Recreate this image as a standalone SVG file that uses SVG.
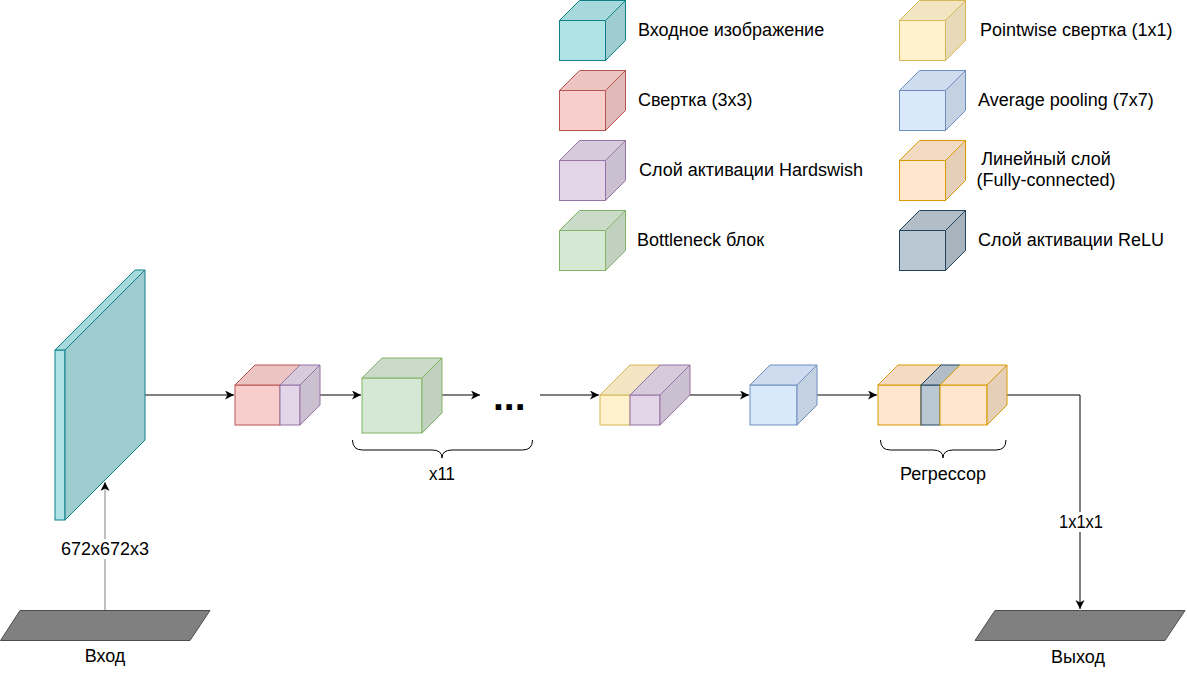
<svg xmlns="http://www.w3.org/2000/svg" width="1187" height="676" viewBox="0 0 1187 676">
<defs>
<marker id="arr" markerUnits="userSpaceOnUse" markerWidth="12" markerHeight="12" refX="9" refY="4.5" orient="auto">
<path d="M0,0 L9,4.5 L0,9 L2.5,4.5 Z" fill="#000"/>
</marker>
<style>
text{font-family:"Liberation Sans",Arial,sans-serif;font-size:18px;fill:#000}
.cyan *{fill:#b0e3e6;stroke:#0e8088}
.cyan .t{fill:#a7d8db}.cyan .s{fill:#9ecccf}
.red *{fill:#f8cecc;stroke:#b85450}
.red .t{fill:#ecc4c2}.red .s{fill:#dfbab8}
.pur *{fill:#e1d5e7;stroke:#9673a6}
.pur .t{fill:#d6cadb}.pur .s{fill:#cbc0d0}
.grn *{fill:#d5e8d4;stroke:#82b366}
.grn .t{fill:#cadcc9}.grn .s{fill:#c0d1bf}
.yel *{fill:#fff2cc;stroke:#d6b656}
.yel .t{fill:#f2e6c2}.yel .s{fill:#e6dab8}
.blu *{fill:#dae8fc;stroke:#6c8ebf}
.blu .t{fill:#cfdcef}.blu .s{fill:#c4d1e3}
.org *{fill:#ffe6cc;stroke:#d79b00}
.org .t{fill:#f2dbc2}.org .s{fill:#e6cfb8}
.drk *{fill:#bac8d3;stroke:#23445d}
.drk .t{fill:#b1bec8}.drk .s{fill:#a7b4be}
.edge{fill:none;stroke:#000;stroke-width:1}
.brace{fill:none;stroke:#000;stroke-width:1}
.para{fill:#808080;stroke:#4d4d4d;stroke-width:1}
</style>
</defs>

<!-- Legend -->
<g id="legend-input" class="cyan">
<rect x="559.5" y="20.5" width="46" height="40"/>
<path class="t" d="M559.5,20.5 L579.5,0.5 L625.5,0.5 L605.5,20.5 Z"/>
<path class="s" d="M605.5,20.5 L625.5,0.5 L625.5,40.5 L605.5,60.5 Z"/>
</g>
<text x="638" y="36">Входное изображение</text>
<g id="legend-conv" class="red">
<rect x="559.5" y="90.5" width="46" height="40"/>
<path class="t" d="M559.5,90.5 L579.5,70.5 L625.5,70.5 L605.5,90.5 Z"/>
<path class="s" d="M605.5,90.5 L625.5,70.5 L625.5,110.5 L605.5,130.5 Z"/>
</g>
<text x="638" y="106">Свертка (3x3)</text>
<g id="legend-hswish" class="pur">
<rect x="559.5" y="160.5" width="46" height="40"/>
<path class="t" d="M559.5,160.5 L579.5,140.5 L625.5,140.5 L605.5,160.5 Z"/>
<path class="s" d="M605.5,160.5 L625.5,140.5 L625.5,180.5 L605.5,200.5 Z"/>
</g>
<text x="639" y="176">Слой активации Hardswish</text>
<g id="legend-bneck" class="grn">
<rect x="559.5" y="230.5" width="46" height="40"/>
<path class="t" d="M559.5,230.5 L579.5,210.5 L625.5,210.5 L605.5,230.5 Z"/>
<path class="s" d="M605.5,230.5 L625.5,210.5 L625.5,250.5 L605.5,270.5 Z"/>
</g>
<text x="637" y="246">Bottleneck блок</text>

<g id="legend-pw" class="yel">
<rect x="899.5" y="20.5" width="46" height="40"/>
<path class="t" d="M899.5,20.5 L919.5,0.5 L965.5,0.5 L945.5,20.5 Z"/>
<path class="s" d="M945.5,20.5 L965.5,0.5 L965.5,40.5 L945.5,60.5 Z"/>
</g>
<text x="980" y="36">Pointwise свертка (1x1)</text>
<g id="legend-pool" class="blu">
<rect x="899.5" y="90.5" width="46" height="40"/>
<path class="t" d="M899.5,90.5 L919.5,70.5 L965.5,70.5 L945.5,90.5 Z"/>
<path class="s" d="M945.5,90.5 L965.5,70.5 L965.5,110.5 L945.5,130.5 Z"/>
</g>
<text x="978" y="106">Average pooling (7x7)</text>
<g id="legend-fc" class="org">
<rect x="899.5" y="160.5" width="46" height="40"/>
<path class="t" d="M899.5,160.5 L919.5,140.5 L965.5,140.5 L945.5,160.5 Z"/>
<path class="s" d="M945.5,160.5 L965.5,140.5 L965.5,180.5 L945.5,200.5 Z"/>
</g>
<text x="1046" y="165" text-anchor="middle">Линейный слой</text>
<text x="1046" y="186" text-anchor="middle">(Fully-connected)</text>
<g id="legend-relu" class="drk">
<rect x="899.5" y="230.5" width="46" height="40"/>
<path class="t" d="M899.5,230.5 L919.5,210.5 L965.5,210.5 L945.5,230.5 Z"/>
<path class="s" d="M945.5,230.5 L965.5,210.5 L965.5,250.5 L945.5,270.5 Z"/>
</g>
<text x="978" y="246">Слой активации ReLU</text>

<!-- Connectors -->
<g id="connectors">
<path class="edge" d="M105,610 L105,482" style="stroke:#808080" marker-end="url(#arr)"/>
<path class="edge" d="M145,395 L234,395" marker-end="url(#arr)"/>
<path class="edge" d="M320,395 L361,395" marker-end="url(#arr)"/>
<path class="edge" d="M442,395 L480,395" marker-end="url(#arr)"/>
<path class="edge" d="M540,395 L599,395" marker-end="url(#arr)"/>
<path class="edge" d="M680,395 L749,395" marker-end="url(#arr)"/>
<path class="edge" d="M810,395 L877,395" marker-end="url(#arr)"/>
<path class="edge" d="M1007,395 L1080,395 L1080,609" marker-end="url(#arr)"/>
<rect x="57" y="539" width="96" height="20" fill="#fff"/>
<text x="105" y="555" text-anchor="middle">672x672x3</text>
<rect x="1055" y="512" width="52" height="20" fill="#fff"/>
<text x="1081" y="528" text-anchor="middle" textLength="44" lengthAdjust="spacingAndGlyphs">1x1x1</text>
</g>

<!-- Input slab -->
<g id="input-image" class="cyan">
<rect x="55" y="350" width="10" height="170"/>
<path class="t" d="M55,350 L135,270 L145,270 L65,350 Z"/>
<path class="s" d="M65,350 L145,270 L145,440 L65,520 Z"/>
</g>

<g id="conv3x3" class="red">
<rect x="235" y="385" width="45" height="40"/>
<path class="t" d="M235,385 L255,365 L300,365 L280,385 Z"/>
</g>
<g id="hswish1" class="pur">
<rect x="280" y="385" width="20" height="40"/>
<path class="t" d="M280,385 L300,365 L320,365 L300,385 Z"/>
<path class="s" d="M300,385 L320,365 L320,405 L300,425 Z"/>
</g>

<g id="bottleneck" class="grn">
<rect x="362" y="378" width="60" height="55"/>
<path class="t" d="M362,378 L382,358 L442,358 L422,378 Z"/>
<path class="s" d="M422,378 L442,358 L442,413 L422,433 Z"/>
</g>
<g id="ellipsis"><text x="493" y="410" style="font-size:39px;font-weight:bold">...</text></g>

<g id="pwconv" class="yel">
<rect x="600" y="395" width="30" height="30"/>
<path class="t" d="M600,395 L630,365 L660,365 L630,395 Z"/>
</g>
<g id="hswish2" class="pur">
<rect x="630" y="395" width="30" height="30"/>
<path class="t" d="M630,395 L660,365 L690,365 L660,395 Z"/>
<path class="s" d="M660,395 L690,365 L690,395 L660,425 Z"/>
</g>

<g id="avgpool" class="blu">
<rect x="750" y="385" width="47" height="40"/>
<path class="t" d="M750,385 L770,365 L817,365 L797,385 Z"/>
<path class="s" d="M797,385 L817,365 L817,405 L797,425 Z"/>
</g>

<g id="fc1" class="org">
<rect x="878" y="385" width="43" height="40"/>
<path class="t" d="M878,385 L898,365 L941,365 L921,385 Z"/>
</g>
<g id="relu" class="drk">
<rect x="921" y="385" width="19" height="40"/>
<path class="t" d="M921,385 L941,365 L960,365 L940,385 Z"/>
</g>
<g id="fc2" class="org">
<rect x="940" y="385" width="47" height="40"/>
<path class="t" d="M940,385 L960,365 L1007,365 L987,385 Z"/>
<path class="s" d="M987,385 L1007,365 L1007,405 L987,425 Z"/>
</g>

<!-- Braces -->
<g id="brace-x11">
<path class="brace" d="M352.5,440 Q352.5,450 362.5,450 L432,450 Q442,450 442,458 Q442,450 452,450 L522.5,450 Q532.5,450 532.5,440"/>
<text x="442" y="480" text-anchor="middle" textLength="26" lengthAdjust="spacingAndGlyphs">x11</text>
</g>
<g id="brace-regressor">
<path class="brace" d="M880.5,440 Q880.5,450 890.5,450 L933,450 Q943,450 943,458 Q943,450 953,450 L996,450 Q1006,450 1006,440"/>
<text x="943" y="480" text-anchor="middle">Регрессор</text>
</g>

<!-- Input / Output -->
<g id="input">
<path class="para" d="M20,610.5 L210,610.5 L190,640.5 L0.5,640.5 Z"/>
<text x="105" y="662" text-anchor="middle">Вход</text>
</g>
<g id="output">
<path class="para" d="M995,610.5 L1185,610.5 L1165,640.5 L975,640.5 Z"/>
<text x="1078" y="663" text-anchor="middle">Выход</text>
</g>
</svg>
